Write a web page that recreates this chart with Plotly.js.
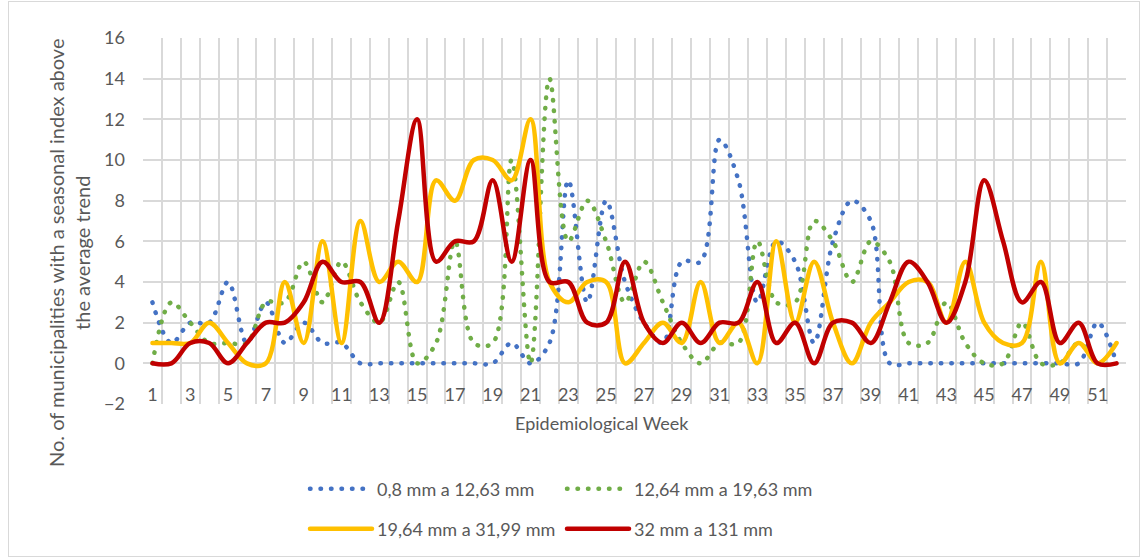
<!DOCTYPE html>
<html><head><meta charset="utf-8">
<script src="https://cdn.plot.ly/plotly-3.0.1.min.js"></script>
<style>
html,body{margin:0;padding:0;background:#fff;}
#wrap{position:relative;width:1145px;height:559px;}
#chart{width:1145px;height:559px;}
#frame{position:absolute;left:8px;top:1px;width:1132px;height:556px;border:1px solid #d9d9d9;pointer-events:none;box-sizing:border-box;}
path.js-line{stroke-linecap:round;stroke-linejoin:round;}
</style></head><body>
<div id="wrap"><div id="chart"></div><div id="frame"></div></div>
<script>
const weeks = [1,2,3,4,5,6,7,8,9,10,11,12,13,14,15,16,17,18,19,20,21,22,23,24,25,26,27,28,29,30,31,32,33,34,35,36,37,38,39,40,41,42,43,44,45,46,47,48,49,50,51,52];
const tickVals = [1,3,5,7,9,11,13,15,17,19,21,23,25,27,29,31,33,35,37,39,41,43,45,47,49,51];
const tickText = ['1','3','5','7','9','11','13','15','17','19','21','23','25','27','29','31','33','35','37','39','41','43','45','47','49','51'];

const seriesNames = ['0,8 mm a 12,63 mm','12,64 mm a 19,63 mm','19,64 mm a 31,99 mm','32 mm a 131 mm'];
const xTitle = 'Epidemiological Week';
const yTitle = 'No. of municipalities with a seasonal index above<br>the average trend';

const s1 = [3,1,2,2,4,1,3,1,2,1,1,0,0,0,0,0,0,0,0,1,0,1,9,3,8,4,2,1,5,5,11,9,3,6,5,1,6,8,7,0,0,0,0,0,0,0,0,0,0,0,2,0];
const s2 = [0,3,2,1,1,1,3,3,5,3,5,3,2,4,0,1,6,1,1,10,0,14,6,8,6,3,5,3,1,0,1,1,6,3,3,7,6,4,6,5,1,1,3,1,0,0,2,0,0,1,0,0];
const s3 = [1,1,1,2,1,0,0,4,1,6,1,7,4,5,4,9,8,10,10,9,12,4,3,4,4,0,1,2,1,4,1,2,0,6,2,5,2,0,2,3,4,4,2,5,2,1,1,5,0,1,0,1];
const s4 = [0,0,1,1,0,1,2,2,3,5,4,4,2,7,12,5,6,6,9,5,10,4,4,2,2,5,2,1,2,1,2,2,4,1,2,0,2,2,1,3,5,4,2,4,9,6,3,4,1,2,0,0];

const colors = ['#4472C4','#70AD47','#FFC000','#C00000'];
const dotDash = '0.5px,10px';

const traces = [
  {x:weeks, y:s1, name:seriesNames[0], type:'scatter', mode:'lines', line:{color:colors[0], width:4.5, dash:dotDash, shape:'spline', smoothing:1}, legend:'legend'},
  {x:weeks, y:s2, name:seriesNames[1], type:'scatter', mode:'lines', line:{color:colors[1], width:4.5, dash:dotDash, shape:'spline', smoothing:1}, legend:'legend'},
  {x:weeks, y:s3, name:seriesNames[2], type:'scatter', mode:'lines', line:{color:colors[2], width:4.5, shape:'spline', smoothing:1}, legend:'legend2'},
  {x:weeks, y:s4, name:seriesNames[3], type:'scatter', mode:'lines', line:{color:colors[3], width:4.5, shape:'spline', smoothing:1}, legend:'legend2'}
];

const grid = '#d9d9d9';
const txt = '#595959';
const plotL = 143, plotR = 1126, plotT = 38, plotB = 404;
const pw = plotR - plotL, ph = plotB - plotT;

const legendCommon = {orientation:'h', xanchor:'left', yanchor:'middle', font:{family:'Lato, sans-serif', size:18, color:txt}, bgcolor:'rgba(0,0,0,0)', itemwidth:62, entrywidth:180, entrywidthmode:'pixels', itemclick:false, itemdoubleclick:false};

const layout = {
  width:1145, height:559,
  margin:{l:plotL, r:1145-plotR, t:plotT, b:559-plotB},
  paper_bgcolor:'#ffffff', plot_bgcolor:'#ffffff',
  font:{family:'Lato, sans-serif', size:18, color:txt},
  showlegend:true,
  xaxis:{
    range:[0.5,52.5], tickmode:'array', tickvals:tickVals, ticktext:tickText,
    showgrid:false, zeroline:false, showline:false, ticks:'',
    anchor:'free', position:2/18, ticklabelstandoff:19,
    tickfont:{size:18, color:txt},
    minor:{tickmode:'linear', tick0:0.5, dtick:1, showgrid:true, gridcolor:grid, gridwidth:2, ticks:''}
  },
  yaxis:{
    range:[-2,16], tickmode:'linear', tick0:0, dtick:2,
    showgrid:true, gridcolor:grid, gridwidth:2, zeroline:false, showline:false,
    ticks:'', ticklabelstandoff:17, tickfont:{size:18, color:txt}
  },
  legend: Object.assign({}, legendCommon, {x:(305-plotL)/pw, y:(plotB-489)/ph}),
  legend2: Object.assign({}, legendCommon, {x:(305-plotL)/pw, y:(plotB-529)/ph}),
  annotations:[
    {text:xTitle, xref:'paper', yref:'paper',
     x:(601.5-plotL)/pw, y:(plotB-423)/ph, xanchor:'center', yanchor:'middle',
     showarrow:false, font:{size:18, color:txt}},
    {text:yTitle, xref:'paper', yref:'paper', textangle:-90,
     x:(69-plotL)/pw, y:(plotB-253)/ph, xanchor:'center', yanchor:'middle',
     showarrow:false, font:{size:20, color:txt}}
  ]
};

Plotly.newPlot('chart', traces, layout, {displayModeBar:false, staticPlot:true});
</script>
</body></html>
